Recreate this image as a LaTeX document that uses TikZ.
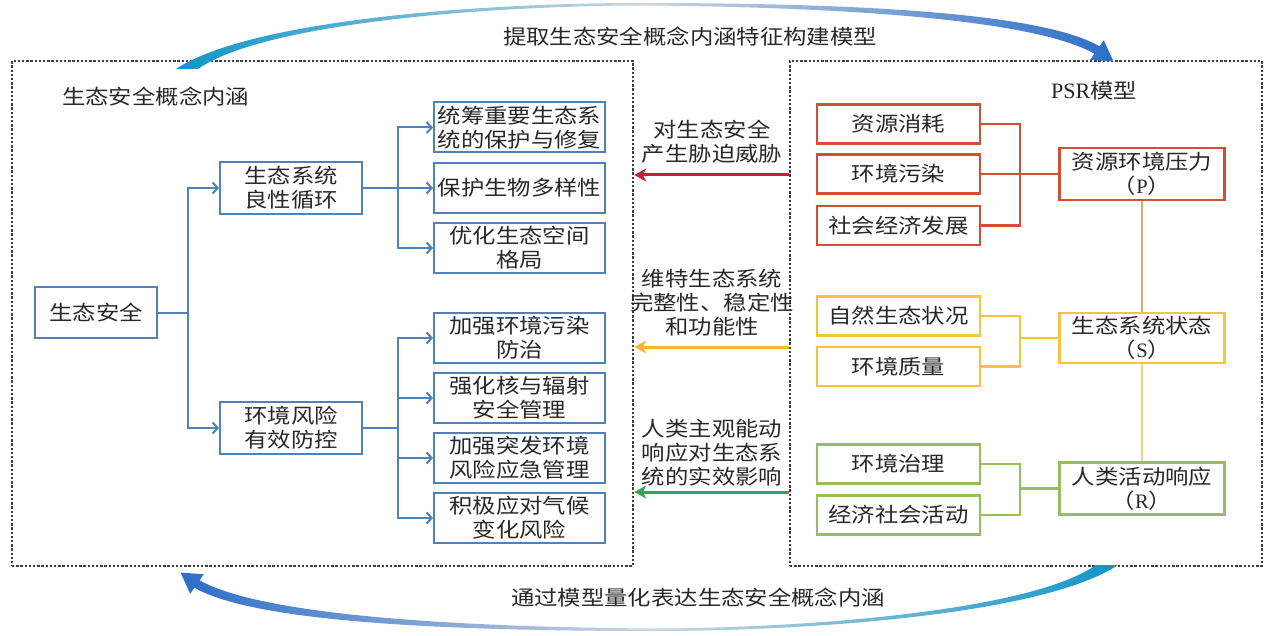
\documentclass[tikz,border=0pt]{standalone}
\usepackage{fontspec}
\newfontfamily\cjk[FakeStretch=1.14]{Noto Sans CJK SC}
\newfontfamily\lat{Liberation Serif}
\usetikzlibrary{arrows.meta}
\definecolor{lblue}{RGB}{79,129,189}
\definecolor{pred}{RGB}{205,80,55}
\definecolor{syel}{RGB}{245,195,60}
\definecolor{rgrn}{RGB}{150,190,95}
\definecolor{ptan}{RGB}{225,170,110}
\definecolor{ared}{RGB}{190,35,50}
\definecolor{ayel}{RGB}{245,185,40}
\definecolor{agrn}{RGB}{40,170,85}
\definecolor{dotgray}{RGB}{60,60,65}
\definecolor{txt}{RGB}{40,40,40}
\definecolor{swteal}{RGB}{15,150,200}
\definecolor{swblue}{RGB}{45,110,200}
\definecolor{swfade}{RGB}{205,215,225}

\begin{document}
\begin{tikzpicture}[x=1pt,y=-1pt,
  every node/.style={font=\cjk\fontsize{20.5}{24}\selectfont, text=txt, align=center, inner sep=0pt},
  leafbox/.style={draw=lblue, line width=2pt, minimum width=171pt, minimum height=50pt},
  midbox/.style={draw=lblue, line width=2pt, minimum width=142pt, minimum height=52pt},
  indbox/.style={line width=2.2pt, minimum width=163pt, minimum height=39pt},
  sysbox/.style={line width=2.2pt, minimum width=165pt, minimum height=52pt},
  linkline/.style={draw=lblue, line width=2pt},
  linkarrow/.style={linkline, -{Straight Barb[length=5pt,width=11pt]}},
  dotframe/.style={draw=dotgray, line width=2.6pt, dash pattern=on 2.4pt off 1.8pt},
  bigarrow/.style={line width=3pt, -{Stealth[length=12pt,width=13pt,inset=3.5pt]}}]
  \path[fill=white] (0,0) rectangle (1266,636);

  % frames
  \path (322.5,313.5) node[dotframe, minimum width=621pt, minimum height=505pt] (nleft) {};
  \path (1026,313.5) node[dotframe, minimum width=472pt, minimum height=505pt] (nright) {};

  % swooshes
  \shade[left color=swteal, right color=swblue, middle color=swfade]
    (176,69) .. controls (250,20) and (480,3) .. (640,3)
    .. controls (850,3) and (1040,12) .. (1099.6,46.3)
    -- (1103.8,40.2) -- (1113.4,61.4) -- (1090.2,59.8) -- (1094.4,53.7)
    .. controls (1035,20) and (850,7) .. (640,5.5)
    .. controls (480,6) and (262,24) .. (198,69) -- cycle;
  \shade[left color=swblue, right color=swteal, middle color=swfade]
    (1118,565) .. controls (1044,614) and (814,631) .. (654,631)
    .. controls (444,631) and (254,622) .. (194.4,587.7)
    -- (190.2,593.8) -- (180.6,572.6) -- (203.8,574.2) -- (199.6,580.3)
    .. controls (259,614) and (444,627) .. (654,628.5)
    .. controls (814,628) and (1032,610) .. (1096,565) -- cycle;
  \path (690,37) node (ltop) {提取生态安全概念内涵特征构建模型};
  \path (698,598) node (lbot) {通过模型量化表达生态安全概念内涵};

  % left part
  \path (62,97) node[anchor=west] (lleft) {生态安全概念内涵};
  \path (96,312.5) node[midbox, minimum width=122pt, minimum height=51pt] (nsafe) {生态安全};
  \path (291,188) node[midbox] (ncycle) {生态系统\\良性循环};
  \path (291,428) node[midbox] (nrisk) {环境风险\\有效防控};
  \path (519.5,127.5) node[leafbox] (nb1) {统筹重要生态系\\统的保护与修复};
  \path (519.5,188) node[leafbox] (nb2) {保护生物多样性};
  \path (519.5,248) node[leafbox] (nb3) {优化生态空间\\格局};
  \path (519.5,338) node[leafbox] (nb4) {加强环境污染\\防治};
  \path (519.5,398) node[leafbox] (nb5) {强化核与辐射\\安全管理};
  \path (519.5,458) node[leafbox] (nb6) {加强突发环境\\风险应急管理};
  \path (519.5,518) node[leafbox] (nb7) {积极应对气候\\变化风险};

  \coordinate (ja) at (188,312.5);
  \draw[linkline] (nsafe.east) -- (ja);
  \draw[linkarrow] (ja) |- (ncycle.west);
  \draw[linkarrow] (ja) |- (nrisk.west);
  \coordinate (jb) at (398,188);
  \draw[linkline] (ncycle.east) -- (jb);
  \foreach \n in {nb1,nb2,nb3}
    \draw[linkarrow] (jb) |- (\n.west);
  \coordinate (jc) at (398,428);
  \draw[linkline] (nrisk.east) -- (jc);
  \foreach \n in {nb4,nb5,nb6,nb7}
    \draw[linkarrow] (jc) |- (\n.west);

  % PSR part
  \path (1094,91) node (lpsr) {{\lat\fontsize{22}{24}\selectfont PSR}模型};
  \path (898.5,124) node[indbox, draw=pred] (np1) {资源消耗};
  \path (898.5,174) node[indbox, draw=pred] (np2) {环境污染};
  \path (898.5,225.5) node[indbox, draw=pred] (np3) {社会经济发展};
  \path (1142,174) node[sysbox, draw=pred] (npress) {资源环境压力\\（{\lat P}）};
  \coordinate (jp) at (1020,174);
  \draw[draw=pred, line width=2.2pt] (np1.east) -| (jp) |- (np3.east);
  \draw[draw=pred, line width=2.2pt] (np2.east) -- (npress.west);

  \path (898.5,316) node[indbox, draw=syel] (ns1) {自然生态状况};
  \path (898.5,366.5) node[indbox, draw=syel] (ns2) {环境质量};
  \path (1142,338) node[sysbox, minimum height=50pt, draw=syel] (nstate) {生态系统状态\\（{\lat S}）};
  \coordinate (js) at (1020,338);
  \draw[draw=syel, line width=2.2pt] (ns1.east) -| (js) |- (ns2.east);
  \draw[draw=syel, line width=2.2pt] (js) -- (nstate.west);

  \path (898.5,464) node[indbox, draw=rgrn] (nr1) {环境治理};
  \path (898.5,515) node[indbox, draw=rgrn] (nr2) {经济社会活动};
  \path (1142,488.5) node[sysbox, draw=rgrn] (nresp) {人类活动响应\\（{\lat R}）};
  \coordinate (jr) at (1020,488.5);
  \draw[draw=rgrn, line width=2.2pt] (nr1.east) -| (jr) |- (nr2.east);
  \draw[draw=rgrn, line width=2.2pt] (jr) -- (nresp.west);

  \draw[draw=ptan, line width=1.8pt] (npress) -- (nstate);
  \draw[draw=syel!75, line width=1.8pt] (nstate) -- (nresp);

  % middle arrows
  \coordinate (ya) at (0,175);
  \coordinate (yb) at (0,347);
  \coordinate (yc) at (0,492);
  \draw[bigarrow, draw=ared] (nright.west |- ya) -- (nleft.east |- ya);
  \draw[bigarrow, draw=ayel] (nright.west |- yb) -- (nleft.east |- yb);
  \draw[bigarrow, draw=agrn] (nright.west |- yc) -- (nleft.east |- yc);
  \path (712,142) node (lp) {对生态安全\\产生胁迫威胁};
  \path (712,303) node (ls) {维特生态系统\\完整性、稳定性\\和功能性};
  \path (712,453) node (lr) {人类主观能动\\响应对生态系\\统的实效影响};
\end{tikzpicture}
\end{document}
